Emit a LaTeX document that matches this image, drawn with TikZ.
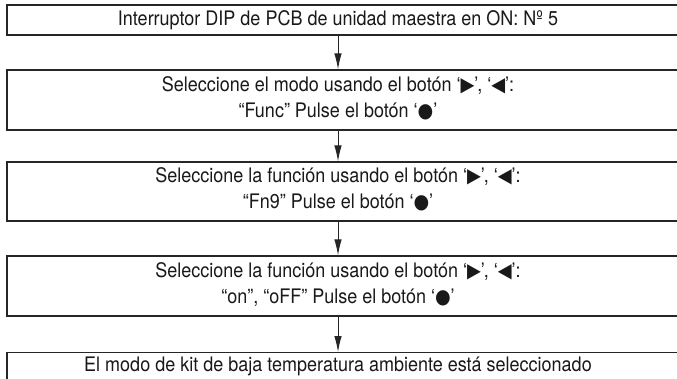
\documentclass[tikz,border=0pt]{standalone}
\usepackage{fontspec}
\setmainfont{TeX Gyre Heros}[FakeStretch=0.9]
\newfontfamily\symfont{DejaVu Sans}[FakeStretch=0.9]
\usetikzlibrary{arrows.meta}
\newcommand{\rtri}{{\symfont\char"25B6}}
\newcommand{\ltri}{{\symfont\char"25C0}}
\newcommand{\dotb}{{\symfont\char"25CF}}
\begin{document}
\begin{tikzpicture}[x=1pt,y=1pt,
  boxstyle/.style={draw=black!85,line width=1.3pt,rectangle,inner sep=0pt,minimum width=690pt},
  txt/.style={font=\fontsize{20}{26}\selectfont,align=center,inner sep=0pt,text=black!90},
  flow/.style={draw=black!85,line width=1pt,-{Latex[length=16pt,width=7.5pt]}}]
\useasboundingbox (0,0) rectangle (677,-378);
\clip (0,0) rectangle (677,-378);
\fill[white] (0,0) rectangle (677,-378);
\node[boxstyle,minimum height=30pt] (b1) at (352,-20) {};
\node[boxstyle,minimum height=60pt] (b2) at (352,-100) {};
\node[boxstyle,minimum height=59pt] (b3) at (352,-191.5) {};
\node[boxstyle,minimum height=60pt] (b4) at (352,-286) {};
\node[boxstyle,minimum height=40pt,anchor=north] (b5) at (352,-352) {};
\node[txt] (t1) at (338,-20) {Interruptor DIP de PCB de unidad maestra en ON: Nº 5};
\node[txt] (t2) at (338,-98) {Seleccione el modo usando el botón ‘\rtri’, ‘\ltri’:\\“Func” Pulse el botón ‘\dotb’};
\node[txt] (t3) at (338,-189.5) {Seleccione la función usando el botón ‘\rtri’, ‘\ltri’:\\“Fn9” Pulse el botón ‘\dotb’};
\node[txt] (t4) at (338,-284) {Seleccione la función usando el botón ‘\rtri’, ‘\ltri’:\\“on”, “oFF” Pulse el botón ‘\dotb’};
\node[txt] (t5) at (338,-366) {El modo de kit de baja temperatura ambiente está seleccionado};
\draw[flow] (t1 |- b1.south) -- (t1 |- b2.north);
\draw[flow] (t1 |- b2.south) -- (t1 |- b3.north);
\draw[flow] (t1 |- b3.south) -- (t1 |- b4.north);
\draw[flow] (t1 |- b4.south) -- (t1 |- b5.north);
\end{tikzpicture}
\end{document}
